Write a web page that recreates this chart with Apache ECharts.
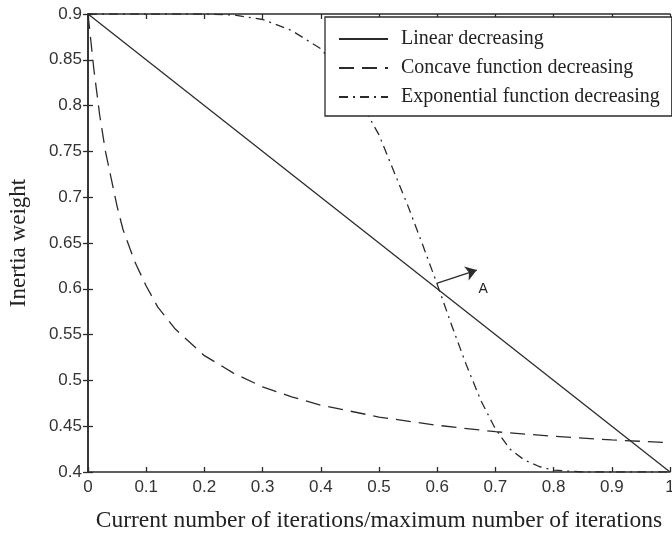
<!DOCTYPE html>
<html>
<head>
<meta charset="utf-8">
<script src="https://cdn.jsdelivr.net/npm/echarts@6/dist/echarts.min.js"></script>
<style>
  html, body { margin: 0; padding: 0; background: #fff; }
  #chart { width: 672px; height: 536px; }
</style>
</head>
<body>
<div id="chart"></div>
<script>
// Inertia weight strategies vs. normalised iteration count
const seriesNames = ['Linear decreasing', 'Concave function decreasing', 'Exponential function decreasing'];

const linearX = [0, 1];
const linearY = [0.9, 0.4];

const concaveX = [0, 0.005, 0.01, 0.02, 0.03, 0.04, 0.05, 0.06, 0.08, 0.1, 0.12, 0.15, 0.2, 0.25, 0.3, 0.35, 0.4, 0.5, 0.6, 0.7, 0.8, 0.9, 1.0];
const concaveY = [0.90, 0.87, 0.84, 0.79, 0.75, 0.72, 0.69, 0.665, 0.63, 0.603, 0.58, 0.556, 0.527, 0.508, 0.493, 0.482, 0.473, 0.460, 0.451, 0.444, 0.439, 0.435, 0.432];

const expX = [0, 0.1, 0.2, 0.25, 0.3, 0.35, 0.4, 0.45, 0.5, 0.55, 0.575, 0.6, 0.625, 0.65, 0.675, 0.7, 0.725, 0.75, 0.775, 0.8, 0.85, 0.9, 1.0];
const expY = [0.9, 0.9, 0.9, 0.899, 0.894, 0.882, 0.862, 0.825, 0.768, 0.690, 0.648, 0.605, 0.560, 0.517, 0.478, 0.447, 0.425, 0.413, 0.406, 0.402, 0.4, 0.4, 0.4];

// Intersection marker "A"
const arrowFrom = [0.599, 0.606];
const arrowTo = [0.668, 0.6205];
const labelA = [0.679, 0.600];

const zip = (xs, ys) => xs.map((x, i) => [x, ys[i]]);

const ink = '#2b2b2b';
const serif = '"Liberation Serif", "Times New Roman", serif';
const sans = '"Liberation Sans", Arial, sans-serif';

const chart = echarts.init(document.getElementById('chart'), null, { renderer: 'canvas' });

const axisCommon = {
  type: 'value',
  axisLine: { show: true, lineStyle: { color: ink, width: 1.5 } },
  axisTick: { show: true, inside: true, length: 5, lineStyle: { color: ink, width: 1.3 } },
  splitLine: { show: false }
};

chart.setOption({
  animation: false,
  backgroundColor: '#fff',
  grid: { left: 88, right: 2, top: 14, bottom: 64, containLabel: false, outerBoundsMode: 'none' },
  legend: {
    data: seriesNames,
    orient: 'vertical',
    left: 325,
    top: 17,
    padding: [12, 12, 9, 13],
    itemWidth: 49,
    itemHeight: 20,
    itemGap: 9,
    backgroundColor: '#fff',
    borderColor: ink,
    borderWidth: 1.3,
    borderRadius: 0,
    itemStyle: { opacity: 0 },
    textStyle: { fontFamily: serif, fontSize: 20, color: '#222', padding: [0, 0, 0, 8], lineHeight: 20 }
  },
  xAxis: [
    Object.assign({}, axisCommon, {
      min: 0, max: 1, interval: 0.1, position: 'bottom',
      name: 'Current number of iterations/maximum number of iterations',
      nameLocation: 'middle', nameGap: 37,
      nameTextStyle: { fontFamily: serif, fontSize: 23.5, color: '#222' },
      axisLabel: { fontFamily: sans, fontSize: 17, color: '#333', margin: 7 }
    }),
    Object.assign({}, axisCommon, {
      min: 0, max: 1, interval: 0.1, position: 'top', axisLabel: { show: false }
    })
  ],
  yAxis: [
    Object.assign({}, axisCommon, {
      min: 0.4, max: 0.9, interval: 0.05, position: 'left',
      name: 'Inertia weight',
      nameLocation: 'middle', nameGap: 58, nameRotate: 90,
      nameTextStyle: { fontFamily: serif, fontSize: 23, color: '#222' },
      axisLabel: { fontFamily: sans, fontSize: 17, color: '#333', margin: 6 }
    }),
    Object.assign({}, axisCommon, {
      min: 0.4, max: 0.9, interval: 0.05, position: 'right', axisLabel: { show: false }
    })
  ],
  series: [
    {
      name: seriesNames[0], type: 'line', symbol: 'none', z: 3,
      data: zip(linearX, linearY),
      lineStyle: { color: ink, width: 1.3, type: 'solid' },
      itemStyle: { color: ink },
      markLine: {
        silent: true,
        symbol: ['none', 'arrow'],
        symbolSize: 11,
        label: { show: false },
        lineStyle: { color: ink, width: 1.3, type: 'solid' },
        data: [[{ coord: arrowFrom }, { coord: arrowTo }]]
      },
      markPoint: {
        silent: true,
        symbol: 'rect',
        symbolSize: 1,
        itemStyle: { color: 'rgba(0,0,0,0)' },
        label: { show: true, position: 'inside', formatter: 'A', fontFamily: sans, fontSize: 14, color: '#222' },
        data: [{ coord: labelA }]
      }
    },
    {
      name: seriesNames[1], type: 'line', symbol: 'none', z: 3,
      data: zip(concaveX, concaveY),
      lineStyle: { color: ink, width: 1.3, type: [15, 8] },
      itemStyle: { color: ink }
    },
    {
      name: seriesNames[2], type: 'line', symbol: 'none', z: 3,
      data: zip(expX, expY),
      lineStyle: { color: ink, width: 1.3, type: [9, 5, 2, 5] },
      itemStyle: { color: ink }
    }
  ]
});
</script>
</body>
</html>
